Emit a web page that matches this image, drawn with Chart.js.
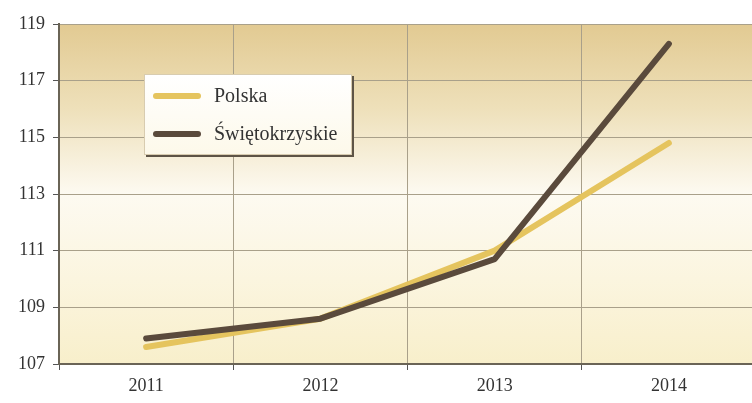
<!DOCTYPE html>
<html>
<head>
<meta charset="utf-8">
<script src="https://cdn.jsdelivr.net/npm/chart.js@4"></script>
<style>
  html, body { margin: 0; padding: 0; background: #fff; }
  #wrap { position: relative; width: 752px; height: 403px; overflow: hidden; }
  #legend {
    position: absolute; left: 144px; top: 74px; width: 206px; height: 79px;
    background: linear-gradient(to bottom, #ffffff, #fdf9ea);
    border: 1px solid #d8ccb0;
    box-shadow: 2px 2px 0 #5e5446;
    font-family: 'Liberation Serif', serif; font-size: 20px; color: #333;
  }
  #legend .item { position: absolute; left: 8px; display: flex; align-items: center; }
  #legend .swatch { width: 48px; height: 6px; border-radius: 3px; margin-right: 13px; }
</style>
</head>
<body>
<div id="wrap">
  <canvas id="myChart" width="756" height="403"></canvas>
  <div id="legend"></div>
</div>
<script>
// values
const years = ['2011', '2012', '2013', '2014'];
const polska = [107.6, 108.6, 111.0, 114.8];
const swietokrzyskie = [107.9, 108.6, 110.7, 118.3];
const yTicks = [107, 109, 111, 113, 115, 117, 119];

const colors = { polska: '#e5c45e', swiet: '#5a4a3c' };

// plot area gradient
const bgPlugin = {
  id: 'plotBg',
  beforeDraw(chart) {
    const { ctx, chartArea: a } = chart;
    const g = ctx.createLinearGradient(0, a.top, 0, a.bottom);
    g.addColorStop(0, '#e2ca92');
    g.addColorStop(0.25, '#eee0ba');
    g.addColorStop(0.5, '#fdfaf1');
    g.addColorStop(0.75, '#fbf5df');
    g.addColorStop(1, '#f8efcb');
    ctx.save();
    ctx.fillStyle = g;
    ctx.fillRect(a.left, a.top, a.right - a.left, a.bottom - a.top);
    ctx.restore();
  },
};

const ctx = document.getElementById('myChart').getContext('2d');
// eslint-disable-next-line
const myChart = new Chart(ctx, {
  type: 'line',
  data: {
    labels: years,
    datasets: [
      { label: 'Polska', data: polska, borderColor: colors.polska, order: 2 },
      { label: 'Świętokrzyskie', data: swietokrzyskie, borderColor: colors.swiet, order: 1 },
    ],
  },
  options: {
    responsive: false,
    animation: false,
    layout: { padding: { top: 24, right: 0, left: 0, bottom: 0 } },
    elements: {
      line: { borderWidth: 6, tension: 0, borderCapStyle: 'round', borderJoinStyle: 'round' },
      point: { radius: 0 },
    },
    plugins: { legend: { display: false }, tooltip: { enabled: false } },
    scales: {
      x: {
        offset: true,
        grid: { offset: true, color: '#a9a08a', lineWidth: 1, tickLength: 6, tickColor: '#555' },
        border: { color: '#6a6456', width: 2 },
        ticks: { color: '#333', font: { family: 'Liberation Serif', size: 18 }, padding: 5 },
        afterFit(scale) { scale.height = 39; },
      },
      y: {
        min: 107,
        max: 119,
        afterBuildTicks(scale) { scale.ticks = yTicks.map(v => ({ value: v })); },
        grid: { color: '#a9a08a', lineWidth: 1, tickLength: 6, tickColor: '#555' },
        border: { color: '#6a6456', width: 2 },
        ticks: { color: '#333', font: { family: 'Liberation Serif', size: 18 }, padding: 8 },
        afterFit(scale) { scale.width = 59; },
      },
    },
  },
  plugins: [bgPlugin],
});

// legend built from the datasets
const legend = document.getElementById('legend');
myChart.data.datasets.forEach((ds, i) => {
  const item = document.createElement('div');
  item.className = 'item';
  item.style.top = (i === 0 ? 9 : 47) + 'px';
  const sw = document.createElement('span');
  sw.className = 'swatch';
  sw.style.background = ds.borderColor;
  const txt = document.createElement('span');
  txt.textContent = ds.label;
  item.appendChild(sw);
  item.appendChild(txt);
  legend.appendChild(item);
});
</script>
</body>
</html>
